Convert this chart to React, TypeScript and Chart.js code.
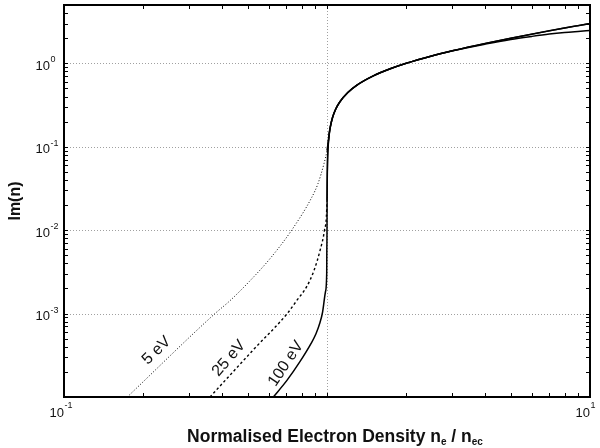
import React, { useEffect, useRef } from 'react';
import { Chart, registerables } from 'chart.js';
Chart.register(...registerables);

// ---- data (ne / nec  vs  Im(n)) ----
const ne5 = [0.174, 0.375, 0.428, 0.51, 0.607, 0.734, 0.875, 0.924, 0.974, 1.0, 1.01, 1.02, 1.03, 1.05, 1.08, 1.12, 1.2, 1.3, 1.5, 1.75, 2, 2.5, 3, 4, 5, 6, 7, 8, 9, 10];
const im5 = [1e-4, 1e-3, 1.43e-3, 2.48e-3, 4.55e-3, 1e-2, 0.0247, 0.0361, 0.0627, 0.09, 0.112, 0.148, 0.177, 0.226, 0.284, 0.347, 0.447, 0.548, 0.707, 0.866, 1.0, 1.225, 1.414, 1.70, 1.93, 2.10, 2.24, 2.34, 2.41, 2.47];

const ne25 = [0.359, 0.528, 0.706, 0.767, 0.837, 0.892, 0.9406, 0.9784, 1.0, 1.005, 1.01, 1.02, 1.03, 1.05, 1.08, 1.12, 1.2, 1.3, 1.5, 1.75, 2, 2.5, 3, 4, 5, 6, 7, 8, 9, 10];
const im25 = [1e-4, 3.76e-4, 1e-3, 1.43e-3, 2.1e-3, 3.27e-3, 5.68e-3, 1e-2, 0.0226, 0.072, 0.103, 0.142, 0.173, 0.224, 0.283, 0.346, 0.447, 0.548, 0.707, 0.866, 1.0, 1.225, 1.414, 1.732, 2.0, 2.236, 2.449, 2.646, 2.828, 3.0];

const ne100 = [0.625, 0.703, 0.789, 0.869, 0.908, 0.9406, 0.9614, 0.987, 0.9974, 0.9985, 1.0, 1.001, 1.003, 1.006, 1.01, 1.02, 1.03, 1.05, 1.08, 1.12, 1.2, 1.3, 1.5, 1.75, 2, 2.5, 3, 4, 5, 6, 7, 8, 9, 10];
const im100 = [1e-4, 1.57e-4, 2.65e-4, 4.36e-4, 5.74e-4, 7.82e-4, 1.03e-3, 1.84e-3, 3.03e-3, 5.68e-3, 0.0095, 0.032, 0.055, 0.078, 0.1, 0.141, 0.173, 0.224, 0.283, 0.346, 0.447, 0.548, 0.707, 0.866, 1.0, 1.225, 1.414, 1.732, 2.0, 2.236, 2.449, 2.646, 2.828, 3.0];

// axis settings / labels
const xRange = [0.1, 10];
const yRange = [1e-4, 5];
const xGridValues = [1];
const yGridValues = [1e-3, 1e-2, 1e-1, 1];
const xLabelValues = [0.1, 10];
const xLabelExps = ['-1', '1'];
const yLabelValues = [1, 0.1, 0.01, 0.001];
const yLabelExps = ['0', '-1', '-2', '-3'];
const curveLabels = ['5 eV', '25 eV', '100 eV'];
const curveLabelAt = [[0.225, 3.6e-4], [0.424, 2.9e-4], [0.698, 2.5e-4]];
const curveLabelAngle = [-44, -49, -56];

const FONT = '"Liberation Sans", Arial, Helvetica, sans-serif';

function logTicks(min: number, max: number): number[] {
  const out: number[] = [];
  for (let d = Math.floor(Math.log10(min)); d <= Math.ceil(Math.log10(max)); d++) {
    for (let m = 1; m <= 9; m++) {
      const v = m * Math.pow(10, d);
      if (v > min * 1.0001 && v < max * 0.9999) out.push(v);
    }
  }
  return out;
}

const decor = {
  id: 'decor',
  beforeDatasetsDraw(chart: any) {
    const { ctx, chartArea: a, scales } = chart;
    ctx.save();
    ctx.strokeStyle = '#a0a0a0';
    ctx.lineWidth = 1;
    ctx.setLineDash([1, 2]);
    for (const v of xGridValues) {
      const px = Math.round(scales.x.getPixelForValue(v)) + 0.5;
      ctx.beginPath(); ctx.moveTo(px, a.top); ctx.lineTo(px, a.bottom); ctx.stroke();
    }
    for (const v of yGridValues) {
      const py = Math.round(scales.y.getPixelForValue(v)) + 0.5;
      ctx.beginPath(); ctx.moveTo(a.left, py); ctx.lineTo(a.right, py); ctx.stroke();
    }
    ctx.restore();
  },
  afterDraw(chart: any) {
    const { ctx, chartArea: a, scales } = chart;
    ctx.save();
    ctx.setLineDash([]);
    // inward ticks
    ctx.strokeStyle = '#000';
    ctx.lineWidth = 1;
    const tl = 4;
    for (const v of logTicks(xRange[0], xRange[1])) {
      const px = Math.round(scales.x.getPixelForValue(v)) + 0.5;
      ctx.beginPath();
      ctx.moveTo(px, a.bottom); ctx.lineTo(px, a.bottom - tl);
      ctx.moveTo(px, a.top); ctx.lineTo(px, a.top + tl);
      ctx.stroke();
    }
    for (const v of logTicks(yRange[0], yRange[1])) {
      const py = Math.round(scales.y.getPixelForValue(v)) + 0.5;
      ctx.beginPath();
      ctx.moveTo(a.left, py); ctx.lineTo(a.left + tl, py);
      ctx.moveTo(a.right, py); ctx.lineTo(a.right - tl, py);
      ctx.stroke();
    }
    // frame
    ctx.lineWidth = 2;
    ctx.strokeRect(a.left, a.top, a.right - a.left, a.bottom - a.top);

    ctx.fillStyle = '#111';
    // y tick labels
    yLabelValues.forEach((v, i) => {
      const py = scales.y.getPixelForValue(v);
      ctx.font = `13px ${FONT}`;
      ctx.textAlign = 'right';
      ctx.textBaseline = 'alphabetic';
      ctx.fillText('10', 50, py + 6.5);
      ctx.font = `9px ${FONT}`;
      ctx.textAlign = 'left';
      ctx.fillText(yLabelExps[i], 50.5, py - 1);
    });
    // x tick labels
    xLabelValues.forEach((v, i) => {
      const px = scales.x.getPixelForValue(v);
      ctx.font = `13px ${FONT}`;
      ctx.textAlign = 'right';
      ctx.textBaseline = 'alphabetic';
      ctx.fillText('10', px, 416.5);
      ctx.font = `9px ${FONT}`;
      ctx.textAlign = 'left';
      ctx.fillText(xLabelExps[i], px + 0.5, 408);
    });

    // y title
    ctx.save();
    ctx.translate(16, (a.top + a.bottom) / 2);
    ctx.rotate(-Math.PI / 2);
    ctx.font = `bold 16px ${FONT}`;
    ctx.textAlign = 'center';
    ctx.textBaseline = 'middle';
    ctx.fillText('Im(n)', 0, 0);
    ctx.restore();

    // x title with subscripts
    const parts: [string, boolean][] = [['Normalised Electron Density n', false], ['e', true], [' / n', false], ['ec', true]];
    const mainF = `bold 17.5px ${FONT}`;
    const subF = `bold 10px ${FONT}`;
    let total = 0;
    for (const [t, s] of parts) { ctx.font = s ? subF : mainF; total += ctx.measureText(t).width; }
    let x = 335 - total / 2;
    const base = 442;
    ctx.textAlign = 'left';
    ctx.textBaseline = 'alphabetic';
    for (const [t, s] of parts) {
      ctx.font = s ? subF : mainF;
      ctx.fillText(t, x, s ? base + 3 : base);
      x += ctx.measureText(t).width;
    }

    // curve labels
    ctx.font = `16px ${FONT}`;
    ctx.textAlign = 'center';
    ctx.textBaseline = 'middle';
    curveLabels.forEach((t, i) => {
      const px = scales.x.getPixelForValue(curveLabelAt[i][0]);
      const py = scales.y.getPixelForValue(curveLabelAt[i][1]);
      ctx.save();
      ctx.translate(px, py);
      ctx.rotate((curveLabelAngle[i] * Math.PI) / 180);
      ctx.fillText(t, 0, 0);
      ctx.restore();
    });
    ctx.restore();
  },
};

const toPts = (xs: number[], ys: number[]) => xs.map((x, i) => ({ x, y: ys[i] }));

export default function App() {
  const ref = useRef<HTMLCanvasElement>(null);
  useEffect(() => {
    if (!ref.current) return;
    const solidAbove = (dash: number[]) => (ctx: any) => (ctx.p0.parsed.x >= 1 ? [] : dash);
    const common = { pointRadius: 0, cubicInterpolationMode: 'monotone', borderColor: '#000' };
    const chart = new Chart(ref.current, {
      type: 'line',
      data: {
        datasets: [
          {
            ...common, label: '5 eV', data: toPts(ne5, im5), borderWidth: 1, borderDash: [1, 2],
            segment: { borderDash: solidAbove([1, 2]), borderWidth: (c: any) => (c.p0.parsed.x >= 1 ? 1.5 : 1) },
          } as any,
          {
            ...common, label: '25 eV', data: toPts(ne25, im25), borderWidth: 1.4, borderDash: [2.5, 2.5],
            segment: { borderDash: solidAbove([2.5, 2.5]) },
          } as any,
          { ...common, label: '100 eV', data: toPts(ne100, im100), borderWidth: 1.5 } as any,
        ],
      },
      options: {
        animation: false,
        responsive: false,
        maintainAspectRatio: false,
        layout: { padding: { left: 64, right: 10, top: 5, bottom: 51 } },
        scales: {
          x: { type: 'logarithmic', min: xRange[0], max: xRange[1], display: false },
          y: { type: 'logarithmic', min: yRange[0], max: yRange[1], display: false },
        },
        plugins: { legend: { display: false }, tooltip: { enabled: false }, title: { display: false } },
      },
      plugins: [decor],
    });
    return () => chart.destroy();
  }, []);
  return (
    <div style={{ position: 'fixed', left: 0, top: 0, width: 600, height: 448, background: '#fff' }}>
      <canvas ref={ref} width={600} height={448} style={{ display: 'block' }} />
    </div>
  );
}
